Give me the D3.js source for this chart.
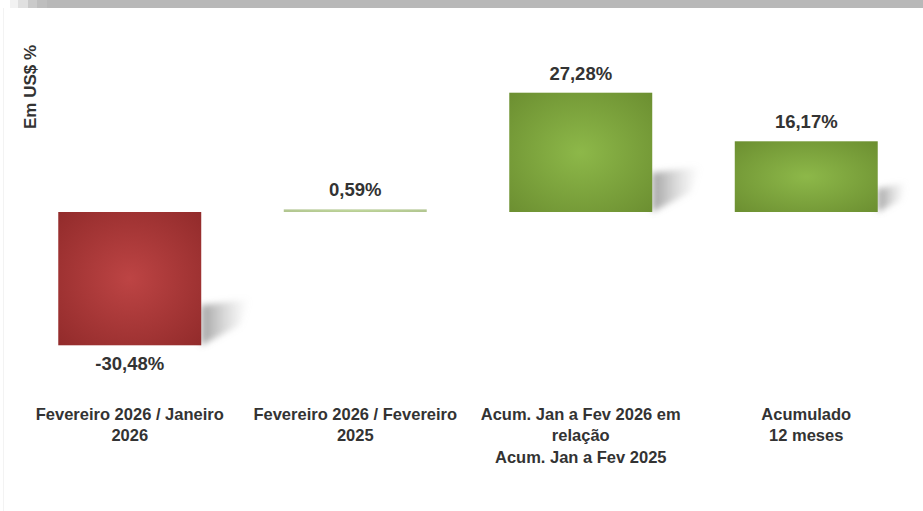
<!DOCTYPE html>
<html><head><meta charset="utf-8">
<script src="https://cdn.jsdelivr.net/npm/d3@7/dist/d3.min.js"></script>
<style>html,body{margin:0;padding:0;background:#fff;}svg{display:block;}</style>
</head><body>
<script>
const categories = [
  ["Fevereiro 2026 / Janeiro", "2026"],
  ["Fevereiro 2026 / Fevereiro", "2025"],
  ["Acum. Jan a Fev 2026 em", "relação", "Acum. Jan a Fev 2025"],
  ["Acumulado", "12 meses"]
];
const values = [-30.48, 0.59, 27.28, 16.17];
const axisTitle = "Em US$ %";

const W = 923, H = 511;
const svg = d3.select("body").append("svg").attr("width", W).attr("height", H);
const defs = svg.append("defs");

function radial(id, c0, c1) {
  const g = defs.append("radialGradient").attr("id", id).attr("cx", "50%").attr("cy", "50%").attr("r", "70%");
  g.append("stop").attr("offset", "0%").attr("stop-color", c0);
  g.append("stop").attr("offset", "100%").attr("stop-color", c1);
}
radial("gRed", "#bd4444", "#922b2b");
radial("gGreen", "#8db849", "#6c8f31");
const sg = defs.append("linearGradient").attr("id", "gShadow").attr("x1", "0%").attr("x2", "100%").attr("y1", "0%").attr("y2", "0%");
sg.append("stop").attr("offset", "0%").attr("stop-color", "#8a8a8a").attr("stop-opacity", 0.8);
sg.append("stop").attr("offset", "100%").attr("stop-color", "#bbbbbb").attr("stop-opacity", 0);
defs.append("filter").attr("id", "blur").attr("x", "-30%").attr("y", "-30%").attr("width", "160%").attr("height", "160%")
  .append("feGaussianBlur").attr("stdDeviation", 3);

// top strip
const strip = [["#f2f2f2", 10, 18], ["#e0e0e0", 18, 28], ["#cacaca", 28, 37], ["#bebebe", 37, 47], ["#b8b8b8", 47, W]];
svg.selectAll("rect.strip").data(strip).join("rect").attr("class", "strip")
  .attr("x", d => d[1]).attr("y", 0).attr("width", d => d[2] - d[1]).attr("height", 8).attr("fill", d => d[0]);
svg.append("line").attr("x1", 3.5).attr("x2", 3.5).attr("y1", 8).attr("y2", H).attr("stroke", "#f3f3f3");

const x = d3.scaleBand().domain(d3.range(values.length)).range([17, 919]).paddingInner(0.366).paddingOuter(0.183);
const y = d3.scaleLinear().domain([-35, 30]).range([365.06, 80.81]);

const fmt0 = d3.formatLocale({decimal: ",", thousands: ".", grouping: [3], currency: ["", ""], minus: "-"}).format(".2f");
const fmt = v => fmt0(v) + "%";

const g = svg.append("g");
// shadows
values.forEach((v, i) => {
  const xr = x(i) + x.bandwidth();
  const yb = Math.max(y(v), y(0));
  const h = Math.abs(y(v) - y(0));
  if (h < 10) return;
  const sh = Math.min(40, h * 0.33);
  const len = Math.min(48, h * 0.4);
  g.append("path")
    .attr("d", `M${xr},${yb - sh} L${xr + len},${yb - sh - 6} L${xr + len * 0.8},${yb - sh * 0.5} L${xr},${yb} Z`)
    .attr("fill", "url(#gShadow)").attr("filter", "url(#blur)");
});

g.selectAll("rect.bar").data(values).join("rect").attr("class", "bar")
  .attr("x", (d, i) => x(i)).attr("width", x.bandwidth())
  .attr("y", d => Math.min(y(d), y(0)))
  .attr("height", d => Math.max(1.5, Math.abs(y(d) - y(0))))
  .attr("fill", d => d < 0 ? "url(#gRed)" : "url(#gGreen)")
  .attr("fill-opacity", d => Math.abs(y(d) - y(0)) < 5 ? 0.55 : 1);

g.selectAll("text.val").data(values).join("text").attr("class", "val")
  .attr("x", (d, i) => x(i) + x.bandwidth() / 2)
  .attr("y", d => d < 0 ? y(d) + 25 : y(d) - 13)
  .attr("text-anchor", "middle")
  .attr("font-family", "Liberation Sans, Arial, sans-serif").attr("font-weight", "bold").attr("font-size", 18.5)
  .attr("fill", "#333")
  .text(d => fmt(d));

const cl = g.selectAll("text.cat").data(categories).join("text").attr("class", "cat")
  .attr("text-anchor", "middle")
  .attr("font-family", "Liberation Sans, Arial, sans-serif").attr("font-weight", "bold").attr("font-size", 16.5)
  .attr("fill", "#333");
cl.each(function(lines, i) {
  d3.select(this).selectAll("tspan").data(lines).join("tspan")
    .attr("x", x(i) + x.bandwidth() / 2)
    .attr("y", (d, j) => 419.5 + j * 21.5)
    .text(d => d);
});

svg.append("text").attr("transform", "translate(36,87) rotate(-90)")
  .attr("text-anchor", "middle")
  .attr("font-family", "Liberation Sans, Arial, sans-serif").attr("font-weight", "bold").attr("font-size", 17)
  .attr("fill", "#333").text(axisTitle);
</script>
</body></html>
